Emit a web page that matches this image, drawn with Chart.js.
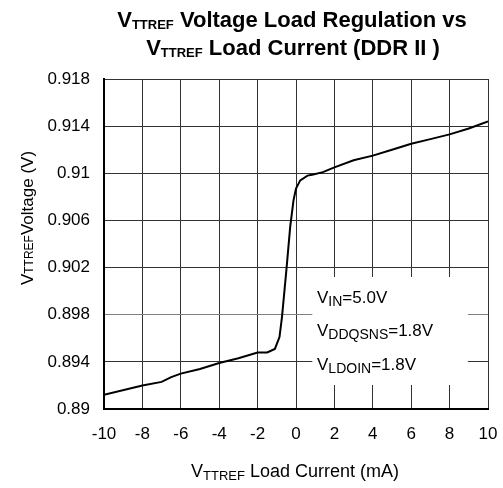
<!DOCTYPE html>
<html>
<head>
<meta charset="utf-8">
<script src="https://cdn.jsdelivr.net/npm/chart.js@4/dist/chart.umd.min.js"></script>
<style>
  html, body { margin: 0; padding: 0; background: #fff; }
  #wrap { width: 503px; height: 488px; }
</style>
</head>
<body>
<div id="wrap"><canvas id="chart" width="503" height="488"></canvas></div>
<script>
// load current (mA) and VTTREF voltage (V)
const currentMA = [-10, -8, -7, -6.5, -6, -5, -4, -3, -2, -1.5, -1.1, -0.86, -0.73, -0.5, -0.3, -0.13, 0, 0.22, 0.6, 0.9, 1.4, 2, 3, 4, 5, 6, 7, 8, 9, 10];
const voltageV = [0.8912, 0.8920, 0.8923, 0.8927, 0.8930, 0.8934, 0.8939, 0.8943, 0.8948, 0.8948, 0.8951, 0.8961, 0.8978, 0.9018, 0.9055, 0.9077, 0.9087, 0.9094, 0.9098, 0.9099, 0.9101, 0.9105, 0.9111, 0.9115, 0.9120, 0.9125, 0.9129, 0.9133, 0.9138, 0.9144];

const xTicks = [-10, -8, -6, -4, -2, 0, 2, 4, 6, 8, 10];
const yTicks = [0.89, 0.894, 0.898, 0.902, 0.906, 0.91, 0.914, 0.918];
const yTickLabels = ["0.89", "0.894", "0.898", "0.902", "0.906", "0.91", "0.914", "0.918"];

const titleLine1 = [{ t: "V" }, { t: "TTREF", sub: true }, { t: " Voltage Load Regulation vs" }];
const titleLine2 = [{ t: "V" }, { t: "TTREF", sub: true }, { t: " Load Current (DDR II )" }];
const xTitle = [{ t: "V" }, { t: "TTREF", sub: true }, { t: " Load Current (mA)" }];
const yTitle = [{ t: "V" }, { t: "TTREF", sub: true }, { t: "Voltage (V)" }];
const noteLines = [
  [{ t: "V" }, { t: "IN", sub: true }, { t: "=5.0V" }],
  [{ t: "V" }, { t: "DDQSNS", sub: true }, { t: "=1.8V" }],
  [{ t: "V" }, { t: "LDOIN", sub: true }, { t: "=1.8V" }]
];

const FONT = '"Liberation Sans", Arial, sans-serif';

function drawRuns(ctx, runs, x, y, size, subSize, weight, drop, align) {
  const font = (s) => weight + " " + s + "px " + FONT;
  let total = 0;
  runs.forEach(function (r) {
    ctx.font = font(r.sub ? subSize : size);
    total += ctx.measureText(r.t).width;
  });
  let cx = align === "center" ? x - total / 2 : x;
  runs.forEach(function (r) {
    ctx.font = font(r.sub ? subSize : size);
    ctx.fillText(r.t, cx, r.sub ? y + drop : y);
    cx += ctx.measureText(r.t).width;
  });
}

const textPlugin = {
  id: "texts",
  beforeDatasetsDraw(chart) {
    // white box behind the conditions text, hides the grid
    const ctx = chart.ctx;
    const xs = chart.scales.x, ys = chart.scales.y;
    const l = xs.getPixelForValue(0.85), r = xs.getPixelForValue(8.95);
    const t = ys.getPixelForValue(0.9012), b = ys.getPixelForValue(0.89204);
    ctx.save();
    ctx.fillStyle = "#fff";
    ctx.fillRect(l, t, r - l, b - t);
    ctx.restore();
  },
  afterDraw(chart) {
    const ctx = chart.ctx;
    ctx.save();
    ctx.fillStyle = "#000";
    ctx.textAlign = "left";
    ctx.textBaseline = "alphabetic";

    drawRuns(ctx, titleLine1, 292, 27, 22, 13, "bold", 2, "center");
    drawRuns(ctx, titleLine2, 293, 55, 22, 13, "bold", 2, "center");
    drawRuns(ctx, xTitle, 295, 477, 18, 13, "normal", 3, "center");

    noteLines.forEach(function (line, i) {
      drawRuns(ctx, line, 317, [303, 336, 370][i], 17, 14, "normal", 3, "left");
    });

    ctx.translate(33, 218);
    ctx.rotate(-Math.PI / 2);
    drawRuns(ctx, yTitle, 0, 0, 17, 12, "normal", 0, "center");
    ctx.restore();
  }
};

const points = currentMA.map(function (x, i) {
  return { x: x, y: voltageV[i] };
});

new Chart(document.getElementById("chart"), {
  type: "line",
  data: {
    datasets: [{
      data: points,
      borderColor: "#000",
      borderWidth: 2,
      pointRadius: 0,
      tension: 0,
      fill: false
    }]
  },
  options: {
    responsive: false,
    animation: false,
    devicePixelRatio: 1,
    layout: { padding: { top: 79, right: 15, left: 0, bottom: 0 } },
    plugins: { legend: { display: false }, tooltip: { enabled: false }, title: { display: false } },
    scales: {
      x: {
        type: "linear",
        min: -10,
        max: 10,
        afterBuildTicks: function (scale) {
          scale.ticks = xTicks.map(function (v) { return { value: v }; });
        },
        afterFit: function (scale) {
          scale.height = 79;
          scale.paddingLeft = 0;
          scale.paddingRight = 0;
        },
        ticks: {
          color: "#000",
          font: { family: FONT, size: 17 },
          padding: 15,
          maxRotation: 0,
          callback: function (v) { return String(v); }
        },
        grid: { color: "#333", lineWidth: 1, drawTicks: false },
        border: { display: true, color: "#000", width: 2 }
      },
      y: {
        type: "linear",
        min: 0.89,
        max: 0.918,
        afterBuildTicks: function (scale) {
          scale.ticks = yTicks.map(function (v) { return { value: v }; });
        },
        afterFit: function (scale) {
          scale.width = 104;
          scale.paddingTop = 0;
          scale.paddingBottom = 0;
        },
        ticks: {
          color: "#000",
          font: { family: FONT, size: 17 },
          padding: 14,
          callback: function (v, i) { return yTickLabels[i]; }
        },
        grid: {
          color: function (c) { return c.tick && c.tick.value === 0.898 ? "#808080" : "#333"; },
          lineWidth: 1,
          drawTicks: false
        },
        border: { display: true, color: "#000", width: 2 }
      }
    }
  },
  plugins: [textPlugin]
});
</script>
</body>
</html>
